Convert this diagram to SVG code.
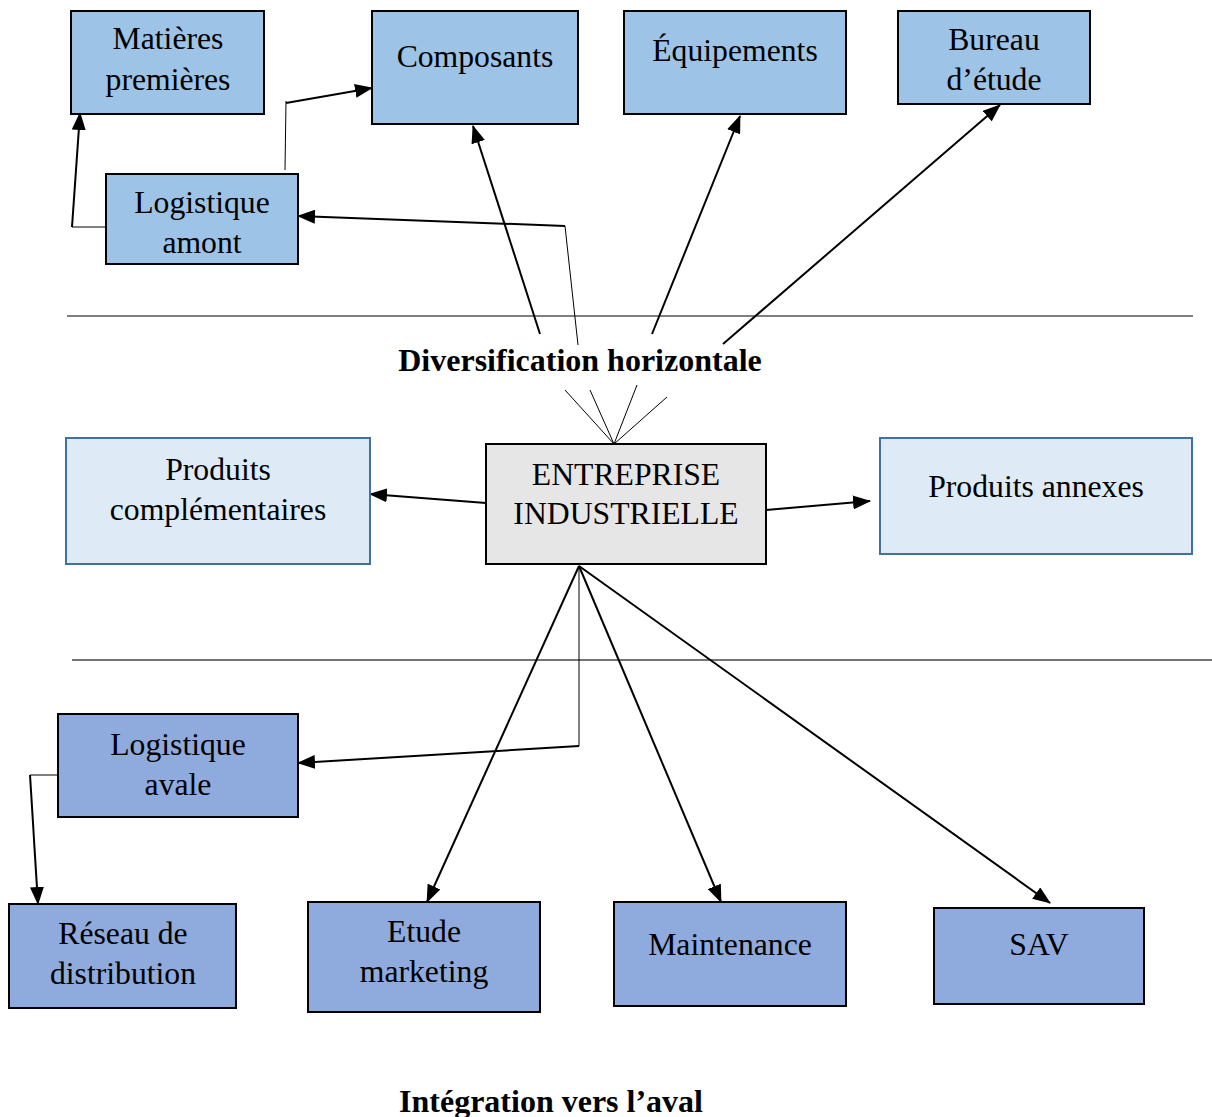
<svg xmlns="http://www.w3.org/2000/svg" width="1212" height="1117" viewBox="0 0 1212 1117">
<style>
text{font-family:"Liberation Serif",Tinos,"Times New Roman","DejaVu Serif",serif;font-size:31.7px;fill:#000;text-anchor:middle}
.b{font-weight:bold;font-size:32px}
.top{fill:#9dc3e6;stroke:#000;stroke-width:2}
.mid{fill:#deebf7;stroke:#41719c;stroke-width:2}
.core{fill:#e6e6e6;stroke:#000;stroke-width:2}
.bot{fill:#8faadc;stroke:#000;stroke-width:2}
.c{fill:none;stroke:#000;stroke-width:2}
.t{fill:none;stroke:#000;stroke-width:1}
.sep1{stroke:#000;stroke-width:1.1}
.sep2{stroke:#444;stroke-width:1.4}
</style>
<defs>
<marker id="a" markerUnits="userSpaceOnUse" markerWidth="18" markerHeight="14" refX="17" refY="7" orient="auto">
<path d="M0,0 L18,7 L0,14 Z" fill="#000"/>
</marker>
</defs>
<rect width="1212" height="1117" fill="#fff"/>
<g id="separators">
<line class="sep1" x1="67" y1="316" x2="1193" y2="316"/>
<line class="sep2" x1="72" y1="660" x2="1212" y2="660"/>
</g>
<g id="connectors">
<polyline class="t" points="106,227 72,227"/>
<line class="c" x1="72" y1="227" x2="80" y2="113" marker-end="url(#a)"/>
<polyline class="t" points="285,170 286,101"/>
<line class="c" x1="286" y1="103" x2="372" y2="88" marker-end="url(#a)"/>
<line class="t" x1="578" y1="345" x2="565" y2="226"/>
<line class="c" x1="565" y1="226" x2="298" y2="216" marker-end="url(#a)"/>
<line class="c" x1="540" y1="334" x2="473" y2="126" marker-end="url(#a)"/>
<line class="c" x1="652" y1="334" x2="740" y2="116" marker-end="url(#a)"/>
<line class="c" x1="723" y1="344" x2="1000" y2="105" marker-end="url(#a)"/>
<line class="t" x1="614" y1="444" x2="565" y2="390"/>
<line class="t" x1="614" y1="444" x2="590" y2="390"/>
<line class="t" x1="614" y1="444" x2="637" y2="385"/>
<line class="t" x1="614" y1="444" x2="667" y2="397"/>
<line class="c" x1="486" y1="503" x2="370" y2="494" marker-end="url(#a)"/>
<line class="c" x1="766" y1="510" x2="870" y2="501" marker-end="url(#a)"/>
<line class="c" x1="579" y1="566" x2="427" y2="902" marker-end="url(#a)"/>
<line class="c" x1="579" y1="566" x2="721" y2="902" marker-end="url(#a)"/>
<line class="c" x1="579" y1="566" x2="1050" y2="903" marker-end="url(#a)"/>
<polyline class="t" points="579,566 579,746"/>
<line class="c" x1="579" y1="746" x2="298" y2="763" marker-end="url(#a)"/>
<polyline class="t" points="58,775 30,775"/>
<line class="c" x1="30" y1="775" x2="38" y2="904" marker-end="url(#a)"/>
</g>
<g id="matieres"><rect class="top" x="71" y="11" width="193" height="103"/><text x="168" y="49">Matières</text><text x="168" y="90">premières</text></g>
<g id="composants"><rect class="top" x="372" y="11" width="206" height="113"/><text x="475" y="67">Composants</text></g>
<g id="equipements"><rect class="top" x="624" y="11" width="222" height="103"/><text x="735" y="61">Équipements</text></g>
<g id="bureau"><rect class="top" x="898" y="11" width="192" height="93"/><text x="994" y="50">Bureau</text><text x="994" y="90">d’étude</text></g>
<g id="logistique-amont"><rect class="top" x="106" y="174" width="192" height="90"/><text x="202" y="213">Logistique</text><text x="202" y="253">amont</text></g>
<g id="diversification"><text class="b" x="580" y="371">Diversification horizontale</text></g>
<g id="entreprise"><rect class="core" x="486" y="444" width="280" height="120"/><text x="626" y="485">ENTREPRISE</text><text x="626" y="524">INDUSTRIELLE</text></g>
<g id="produits-complementaires"><rect class="mid" x="66" y="438" width="304" height="126"/><text x="218" y="480">Produits</text><text x="218" y="520">complémentaires</text></g>
<g id="produits-annexes"><rect class="mid" x="880" y="438" width="312" height="116"/><text x="1036" y="497">Produits annexes</text></g>
<g id="logistique-avale"><rect class="bot" x="58" y="714" width="240" height="103"/><text x="178" y="755">Logistique</text><text x="178" y="795">avale</text></g>
<g id="reseau"><rect class="bot" x="9" y="904" width="227" height="104"/><text x="123" y="944">Réseau de</text><text x="123" y="984">distribution</text></g>
<g id="etude"><rect class="bot" x="308" y="902" width="232" height="110"/><text x="424" y="942">Etude</text><text x="424" y="982">marketing</text></g>
<g id="maintenance"><rect class="bot" x="614" y="902" width="232" height="104"/><text x="730" y="955">Maintenance</text></g>
<g id="sav"><rect class="bot" x="934" y="908" width="210" height="96"/><text x="1039" y="955">SAV</text></g>
<g id="integration"><text class="b" x="551" y="1112">Intégration vers l’aval</text></g>
</svg>
